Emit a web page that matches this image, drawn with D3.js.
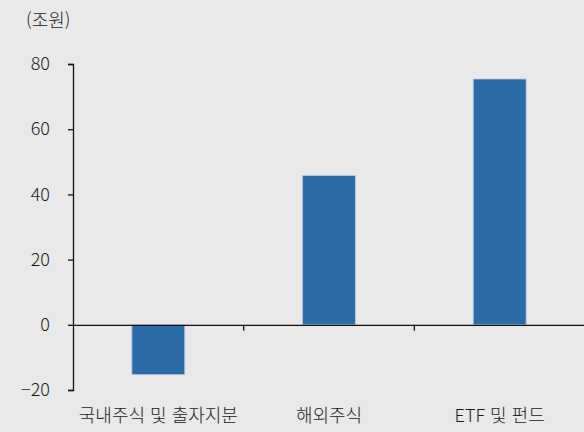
<!DOCTYPE html>
<html lang="ko">
<head>
  <meta charset="UTF-8">
  <title>Bar chart</title>
  <script src="https://d3js.org/d3.v7.min.js"></script>
  <style>
    body {
      margin: 0;
      background-color: #e9e9e9;
    }
    svg text {
      font-family: "Noto Sans CJK KR", "Noto Sans", sans-serif;
      font-weight: 300;
      fill: #1a1a1a;
    }
  </style>
</head>
<body>
  <svg width="584" height="432"></svg>
  <script>
    const categories = ["국내주식 및 출자지분", "해외주식", "ETF 및 펀드"];
    const values = [-15.3, 45.8, 75.4];
    const yTicks = [-20, 0, 20, 40, 60, 80];
    const unitLabel = "(조원)";

    const svg = d3.select("svg");
    const plotLeft = 73, plotRight = 585, plotTop = 64, plotBottom = 390;
    const fontSize = 18;

    const x = d3.scaleBand()
      .domain(categories)
      .range([plotLeft, plotRight])
      .paddingInner(0)
      .paddingOuter(0);

    const y = d3.scaleLinear()
      .domain([-20, 80])
      .range([plotBottom, plotTop]);

    const barW = x.bandwidth() * 0.31;

    // Bars
    svg.selectAll(".bar")
      .data(categories)
      .enter()
      .append("rect")
      .attr("class", "bar")
      .attr("x", (d) => x(d) + (x.bandwidth() - barW) / 2)
      .attr("y", (d, i) => y(Math.max(0, values[i])))
      .attr("width", barW)
      .attr("height", (d, i) => Math.abs(y(values[i]) - y(0)))
      .attr("fill", "#2b6ba7")
      .attr("stroke", "#b9cce0")
      .attr("stroke-width", 0.8);

    // Y axis
    const yAxis = svg.append("g")
      .attr("transform", `translate(${plotLeft},0)`)
      .call(d3.axisLeft(y).tickValues(yTicks).tickSize(5).tickPadding(18)
        .tickFormat(d => d < 0 ? "\u2212" + Math.abs(d) : d));
    yAxis.select(".domain").attr("stroke", "#111").attr("stroke-width", 1.3);
    yAxis.selectAll(".tick line").attr("stroke", "#111").attr("stroke-width", 1.3);
    yAxis.selectAll(".tick text").attr("font-size", fontSize).attr("fill", "#1a1a1a")
      .attr("font-family", null);

    // Zero line with category separators
    const xAxis = svg.append("g")
      .attr("transform", `translate(0,${y(0)})`)
      .call(d3.axisBottom(x).tickSize(0).tickFormat(""));
    xAxis.select(".domain").attr("stroke", "#111").attr("stroke-width", 1.3);
    xAxis.selectAll(".tick").remove();

    xAxis.selectAll(".sep")
      .data(categories.slice(1))
      .enter()
      .append("line")
      .attr("x1", d => x(d))
      .attr("x2", d => x(d))
      .attr("y1", 0)
      .attr("y2", 6)
      .attr("stroke", "#111")
      .attr("stroke-width", 1.3);

    // Category labels
    svg.selectAll(".cat")
      .data(categories)
      .enter()
      .append("text")
      .attr("class", "cat")
      .attr("x", d => x(d) + x.bandwidth() / 2)
      .attr("y", 422)
      .attr("text-anchor", "middle")
      .attr("font-size", fontSize)
      .text(d => d);

    // Unit label
    svg.append("text")
      .attr("x", 26)
      .attr("y", 27)
      .attr("font-size", fontSize)
      .text(unitLabel);
  </script>
</body>
</html>
